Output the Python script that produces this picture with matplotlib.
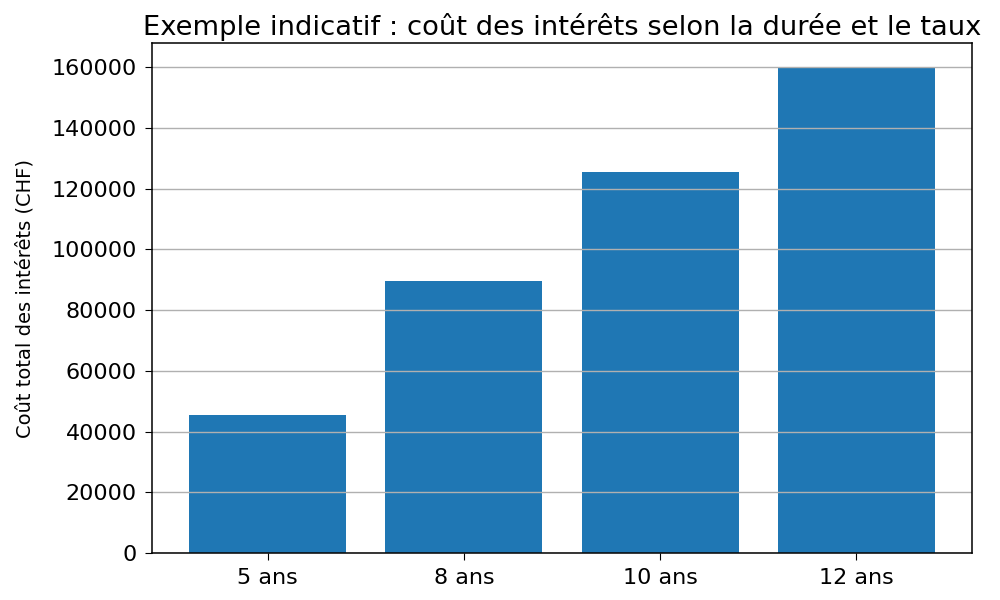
import matplotlib
matplotlib.use("Agg")
import matplotlib.pyplot as plt

durees = ["5 ans", "8 ans", "10 ans", "12 ans"]
couts = [45500, 89600, 125500, 159900]

titre = "Exemple indicatif : coût des intérêts selon la durée et le taux"
ylabel = "Coût total des intérêts (CHF)"

fig = plt.figure(figsize=(10, 6), dpi=100)
ax = fig.add_axes([0.152, 0.078, 0.820, 0.850])
ax.bar(durees, couts, width=0.8, color="#1f77b4")
ax.yaxis.grid(True, color="#b0b0b0", linewidth=1.0)
ax.set_title(titre, fontsize=19.7, pad=6)
ax.set_ylabel(ylabel, fontsize=14, labelpad=12)
ax.tick_params(axis="both", labelsize=16, pad=6, length=5)
for s in ax.spines.values():
    s.set_linewidth(1.1)

fig.savefig("out.png", dpi=100)
